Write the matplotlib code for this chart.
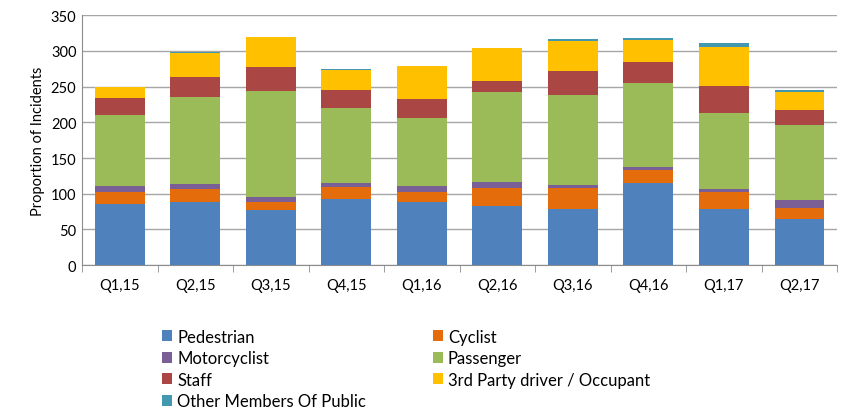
import numpy as np
import matplotlib
matplotlib.use('Agg')
import matplotlib.pyplot as plt

plt.rcParams['font.family'] = 'Lato'

quarters = ['Q1,15', 'Q2,15', 'Q3,15', 'Q4,15', 'Q1,16',
            'Q2,16', 'Q3,16', 'Q4,16', 'Q1,17', 'Q2,17']

pedestrian   = [85, 89, 77, 93, 89, 83, 78, 115, 79, 64]
cyclist      = [17, 18, 12, 17, 13, 25, 30, 18, 23, 16]
motorcyclist = [9, 6, 7, 5, 9, 9, 4, 4, 4, 11]
passenger    = [99, 122, 148, 105, 95, 126, 126, 118, 107, 105]
staff        = [24, 28, 33, 25, 27, 15, 34, 29, 38, 21]
third_party  = [16, 34, 43, 28, 46, 46, 42, 31, 55, 25]
other_public = [0, 1, 0, 2, 0, 0, 2, 3, 5, 3]

series = [
    ('Pedestrian', pedestrian, '#4F81BD'),
    ('Cyclist', cyclist, '#E46C0A'),
    ('Motorcyclist', motorcyclist, '#7A5E96'),
    ('Passenger', passenger, '#9BBB59'),
    ('Staff', staff, '#AA4644'),
    ('3rd Party driver / Occupant', third_party, '#FFC000'),
    ('Other Members Of Public', other_public, '#4198AF'),
]

fig = plt.figure(figsize=(8.41, 4.14), dpi=100)
ax = fig.add_axes([0.0975, 0.357, 0.898, 0.604])

x = np.arange(len(quarters))
bottom = np.zeros(len(quarters))
handles = {}
for name, vals, col in series:
    vals = np.array(vals, dtype=float)
    b = ax.bar(x, vals, 0.66, bottom=bottom, color=col, label=name, zorder=3)
    handles[name] = b
    bottom += vals

ax.set_xlim(-0.5, len(quarters) - 0.5)
ax.set_ylim(0, 350)
ax.set_yticks(range(0, 351, 50))
ax.yaxis.grid(True, color='#a6a6a6', linewidth=1, zorder=0)
ax.set_xticks(x)
ax.set_xticklabels(quarters, fontsize=10.5)
ax.set_xticks(np.arange(-0.5, len(quarters)), minor=True)
ax.tick_params(axis='x', which='major', length=0, pad=9)
ax.tick_params(axis='x', which='minor', length=5, color='#8c8c8c')
ax.tick_params(axis='y', length=0, labelsize=10.5, pad=4)
for s in ['top', 'right']:
    ax.spines[s].set_visible(False)
ax.spines['left'].set_color('#8c8c8c')
ax.spines['bottom'].set_color('#8c8c8c')
ax.set_ylabel('Proportion of Incidents', fontsize=10.5)

order = ['Pedestrian', 'Motorcyclist', 'Staff', 'Other Members Of Public',
         'Cyclist', 'Passenger', '3rd Party driver / Occupant']
fig.legend([handles[n] for n in order], order, ncol=2, frameon=False,
           loc='upper left', bbox_to_anchor=(0.185, 0.22),
           fontsize=12, handlelength=0.6, handleheight=0.6,
           handletextpad=0.3, columnspacing=4.0, labelspacing=0.33,
           borderaxespad=0)

fig.savefig('out.png', dpi=100)
